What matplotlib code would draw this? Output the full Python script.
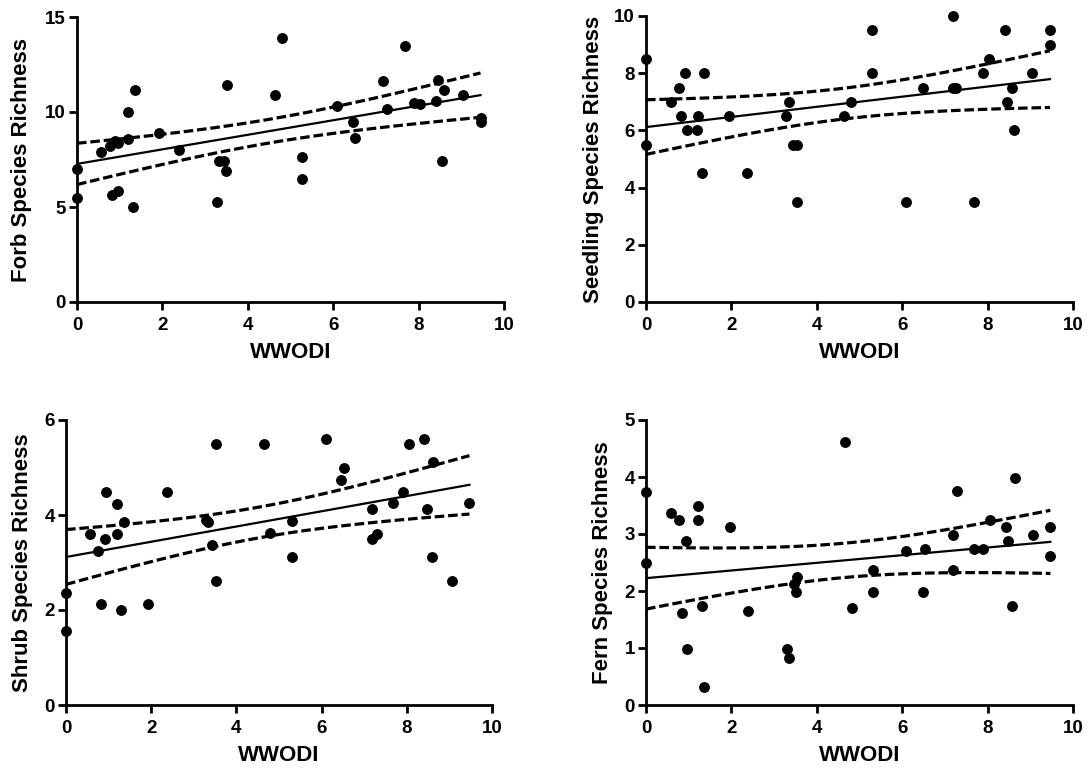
import numpy as np
import matplotlib
matplotlib.use('Agg')
import matplotlib.pyplot as plt

plt.rcParams['font.family'] = ['Liberation Sans', 'DejaVu Sans']
plt.rcParams['font.weight'] = 'bold'

# forb
forb_x = [0, 0, 0.56, 0.77, 0.88, 0.95, 0.81, 0.95, 1.2, 1.2, 1.3, 1.36, 1.93, 2.38,
          3.29, 3.33, 3.45, 3.5, 3.52, 4.64, 4.8, 5.28, 5.28, 6.08, 6.46, 6.51,
          7.17, 7.27, 7.67, 7.89, 8.03, 8.4, 8.45, 8.6, 8.55, 9.03, 9.45, 9.45]
forb_y = [7.0, 5.5, 7.9, 8.2, 8.45, 8.35, 5.65, 5.85, 10.0, 8.6, 5.0, 11.15, 8.9, 8.0,
          5.25, 7.4, 7.4, 6.9, 11.4, 10.9, 13.9, 7.65, 6.5, 10.3, 9.5, 8.65,
          11.65, 10.15, 13.5, 10.5, 10.4, 10.6, 11.7, 11.15, 7.4, 10.9, 9.7, 9.5]

# seedling
seed_x = [0, 0, 0.59, 0.77, 0.92, 0.83, 0.95, 1.2, 1.22, 1.35, 1.3, 1.94, 2.37,
          3.34, 3.29, 3.45, 3.53, 3.53, 5.3, 5.3, 4.8, 4.64, 6.1, 6.49,
          7.18, 7.18, 7.27, 7.67, 7.89, 8.03, 8.41, 8.46, 8.56, 8.61, 9.05, 9.46, 9.46]
seed_y = [8.5, 5.5, 7.0, 7.5, 8.0, 6.5, 6.0, 6.0, 6.5, 8.0, 4.5, 6.5, 4.5,
          7.0, 6.5, 5.5, 5.5, 3.5, 9.5, 8.0, 7.0, 6.5, 3.5, 7.5,
          10.0, 7.5, 7.5, 3.5, 8.0, 8.5, 9.5, 7.0, 7.5, 6.0, 8.0, 9.5, 9.0]

# shrub
shrub_x = [0, 0, 0.56, 0.74, 0.81, 0.92, 0.94, 1.19, 1.19, 1.29, 1.36, 1.93, 2.38,
           3.29, 3.34, 3.43, 3.51, 3.53, 4.65, 4.8, 5.3, 5.3, 6.1, 6.46, 6.52,
           7.18, 7.19, 7.29, 7.68, 7.9, 8.04, 8.4, 8.47, 8.62, 8.58, 9.05, 9.47]
shrub_y = [2.36, 1.56, 3.61, 3.25, 2.12, 3.49, 4.49, 3.61, 4.24, 1.99, 3.86, 2.12, 4.49,
           3.89, 3.86, 3.37, 2.62, 5.49, 5.49, 3.63, 3.87, 3.12, 5.61, 4.74, 4.98,
           4.12, 3.49, 3.61, 4.25, 4.49, 5.49, 5.61, 4.12, 5.12, 3.12, 2.62, 4.25]

# fern
fern_x = [0, 0, 0.59, 0.77, 0.93, 0.84, 0.96, 1.22, 1.22, 1.32, 1.37, 1.96, 2.39,
          3.3, 3.34, 3.47, 3.54, 3.51, 4.65, 4.82, 5.31, 5.31, 6.1, 6.53, 6.48,
          7.28, 7.18, 7.19, 7.68, 7.9, 8.05, 8.42, 8.47, 8.63, 8.57, 9.06, 9.47, 9.47]
fern_y = [3.74, 2.49, 3.37, 3.25, 2.87, 1.62, 0.99, 3.5, 3.25, 1.74, 0.32, 3.12, 1.65,
          0.99, 0.82, 2.12, 2.24, 1.99, 4.62, 1.7, 2.37, 1.99, 2.71, 2.74, 1.99,
          3.75, 2.99, 2.37, 2.74, 2.74, 3.25, 3.12, 2.87, 3.99, 1.74, 2.99, 3.12, 2.62]

ylabels = ['Forb Species Richness', 'Seedling Species Richness',
           'Shrub Species Richness', 'Fern Species Richness']
yticks = [[0, 5, 10, 15], [0, 2, 4, 6, 8, 10], [0, 2, 4, 6], [0, 1, 2, 3, 4, 5]]
xticks = [0, 2, 4, 6, 8, 10]
ypads = [9.5, 7.5, 8, 8.5]

T95 = 2.03  # t value, df ~ 35

W, H = 1091, 775
# axes boxes in pixels: left, top, right, bottom
boxes = [(77, 17, 504, 302), (646, 16, 1073, 302),
         (66, 420, 492, 705), (646, 420, 1073, 705)]

fig = plt.figure(figsize=(W / 100, H / 100), dpi=100)

datasets = [(forb_x, forb_y), (seed_x, seed_y), (shrub_x, shrub_y), (fern_x, fern_y)]

for i in range(4):
    l, t, r, b = boxes[i]
    ax = fig.add_axes([l / W, 1 - b / H, (r - l) / W, (b - t) / H])
    x = np.array(datasets[i][0])
    y = np.array(datasets[i][1])

    # linear regression + 95% confidence band
    slope, icpt = np.polyfit(x, y, 1)
    n = len(x)
    resid = y - (slope * x + icpt)
    s = np.sqrt(np.sum(resid ** 2) / (n - 2))
    sxx = np.sum((x - x.mean()) ** 2)
    xx = np.linspace(x.min(), x.max(), 100)
    yy = slope * xx + icpt
    half = T95 * s * np.sqrt(1 / n + (xx - x.mean()) ** 2 / sxx)

    ax.plot(x, y, 'o', color='black', markersize=6.8, clip_on=False, zorder=3)
    ax.plot(xx, yy, color='black', lw=1.6)
    ax.plot(xx, yy + half, color='black', lw=2.3, linestyle=(0, (3.0, 1.2)))
    ax.plot(xx, yy - half, color='black', lw=2.3, linestyle=(0, (3.0, 1.2)))

    ax.set_xlim(0, 10)
    ax.set_ylim(0, yticks[i][-1])
    ax.set_xticks(xticks)
    ax.set_yticks(yticks[i])
    ax.spines['top'].set_visible(False)
    ax.spines['right'].set_visible(False)
    ax.spines['left'].set_linewidth(2)
    ax.spines['bottom'].set_linewidth(2)
    ax.tick_params(width=2, length=6, labelsize=13.5)
    ax.tick_params(axis='x', pad=4.5)
    ax.tick_params(axis='y', pad=2)
    for lab in ax.get_xticklabels() + ax.get_yticklabels():
        lab.set_fontweight('bold')
    ax.set_xlabel('WWODI', fontsize=16, fontweight='bold', labelpad=6)
    ax.set_ylabel(ylabels[i], fontsize=16, fontweight='bold', labelpad=ypads[i])

fig.savefig('out.png', dpi=100)
